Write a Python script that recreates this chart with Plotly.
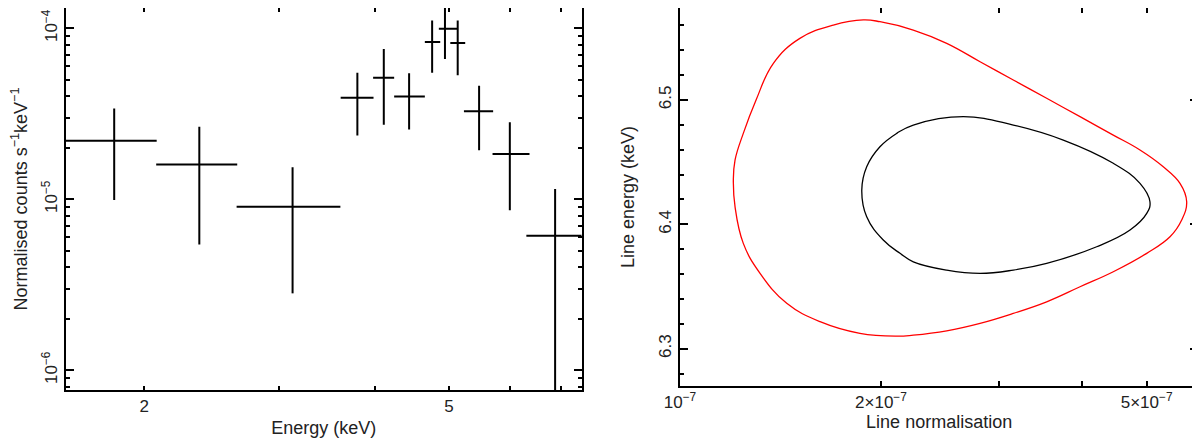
import plotly.graph_objects as go

# ---------------- Left panel: spectrum data ----------------
energy = [1.827, 2.36, 3.124, 3.796, 4.11, 4.435, 4.753, 4.94, 5.133, 5.474, 6.004, 6.88]
energy_lo = [1.579, 2.073, 2.64, 3.61, 3.98, 4.24, 4.65, 4.85, 5.02, 5.23, 5.70, 6.31]
energy_hi = [2.076, 2.645, 3.607, 3.985, 4.24, 4.65, 4.87, 5.125, 5.25, 5.71, 6.37, 7.454]
counts = [2.20e-5, 1.60e-5, 9.05e-6, 3.93e-5, 5.14e-5, 4.00e-5, 8.31e-5, 9.95e-5, 8.20e-5, 3.28e-5, 1.84e-5, 6.12e-6]
counts_hi = [3.40e-5, 2.66e-5, 1.54e-5, 5.50e-5, 7.56e-5, 5.46e-5, 1.11e-4, 1.47e-4, 1.11e-4, 4.61e-5, 2.82e-5, 1.15e-5]
counts_lo = [9.9e-6, 5.45e-6, 2.82e-6, 2.36e-5, 2.73e-5, 2.56e-5, 5.50e-5, 6.61e-5, 5.31e-5, 1.94e-5, 8.63e-6, 7.67e-7]

left_x_ticks = [2, 5]
left_x_ticktext = ["2", "5"]
left_x_minor = [3, 4, 6, 7]
left_y_ticks = [1e-6, 1e-5, 1e-4]
left_y_ticktext = ["10<sup>−6</sup>", "10<sup>−5</sup>", "10<sup>−4</sup>"]
left_y_minor = [8e-7, 9e-7] + [k * 1e-6 for k in range(2, 10)] + [k * 1e-5 for k in range(2, 10)]

# ---------------- Right panel: confidence contours (norm in 1e-7 units) ----------------
red_norm = [1.882, 1.697, 1.512, 1.380, 1.300, 1.244, 1.209, 1.202, 1.209, 1.244, 1.318, 1.445,
            1.621, 1.860, 2.112, 2.236, 2.509, 2.815, 3.157, 3.542, 3.974, 4.457, 5.002, 5.420,
            5.643, 5.741, 5.61, 5.296, 4.887, 4.457, 3.974, 3.542, 3.157, 2.815, 2.509, 2.236,
            1.993, 1.882]
red_energy = [6.5644, 6.5603, 6.5496, 6.5295, 6.5, 6.4732, 6.4517, 6.4356, 6.4142, 6.3847, 6.3606,
              6.3365, 6.3217, 6.3123, 6.3101, 6.3109, 6.3144, 6.3204, 6.3284, 6.3377, 6.3498,
              6.3619, 6.3767, 6.3900, 6.4035, 6.4182, 6.4330, 6.4463, 6.4598, 6.4718, 6.4866,
              6.5014, 6.5161, 6.5308, 6.5456, 6.5563, 6.5630, 6.5644]
black_norm = [2.657, 2.236, 2.112, 1.993, 1.904, 1.872, 1.904, 2.016, 2.136, 2.236, 2.509, 2.815,
              3.157, 3.542, 4.209, 4.722, 5.002, 5.058, 4.887, 4.457, 3.751, 3.157, 2.657]
black_energy = [6.4866, 6.4799, 6.4732, 6.4624, 6.4463, 6.4276, 6.4061, 6.3874, 6.3767, 6.3699,
                6.3632, 6.3606, 6.3632, 6.3686, 6.3820, 6.3954, 6.4088, 6.4182, 6.4330, 6.4491,
                6.4678, 6.4799, 6.4866]

right_x_ticks = [1e-7, 2e-7, 5e-7]
right_x_ticktext = ["10<sup>−7</sup>", "2×10<sup>−7</sup>", "5×10<sup>−7</sup>"]
right_x_minor = [3e-7, 4e-7]
right_y_ticks = [6.3, 6.4, 6.5]
right_y_ticktext = ["6.3", "6.4", "6.5"]
right_y_minor = [6.28, 6.32, 6.34, 6.36, 6.38, 6.42, 6.44, 6.46, 6.48, 6.52, 6.54, 6.56]

FONT = "Liberation Sans, Arial, sans-serif"
TXT = "#222"

fig = go.Figure()

fig.add_trace(go.Scatter(
    x=energy, y=counts, mode="markers",
    marker=dict(size=0.1, color="black", opacity=0),
    cliponaxis=False,
    error_x=dict(type="data", symmetric=False,
                 array=[h - e for h, e in zip(energy_hi, energy)],
                 arrayminus=[e - l for e, l in zip(energy, energy_lo)],
                 thickness=2, width=0, color="black"),
    error_y=dict(type="data", symmetric=False,
                 array=[h - c for h, c in zip(counts_hi, counts)],
                 arrayminus=[c - l for c, l in zip(counts, counts_lo)],
                 thickness=2, width=0, color="black"),
    xaxis="x", yaxis="y", showlegend=False, hoverinfo="skip",
))

fig.add_trace(go.Scatter(
    x=[v * 1e-7 for v in red_norm], y=red_energy, mode="lines",
    line=dict(color="#ff0000", width=1.3, shape="spline", smoothing=1.2),
    xaxis="x2", yaxis="y2", showlegend=False,
))
fig.add_trace(go.Scatter(
    x=[v * 1e-7 for v in black_norm], y=black_energy, mode="lines",
    line=dict(color="black", width=1.3, shape="spline", smoothing=1.2),
    xaxis="x2", yaxis="y2", showlegend=False,
))

axis_common = dict(showline=True, linecolor="black", linewidth=2, mirror="ticks",
                   ticks="inside", tickcolor="black", tickwidth=1.5, showgrid=False,
                   zeroline=False, automargin=False,
                   tickfont=dict(family=FONT, size=17, color=TXT))
minor_common = dict(ticks="inside", tickcolor="black", tickwidth=1.5, showgrid=False)
title_font = dict(family=FONT, size=18, color=TXT)

# The page body adds an 8px offset; domains are placed to compensate.
fig.update_layout(
    width=1200, height=440,
    margin=dict(l=0, r=0, t=0, b=0, autoexpand=False),
    paper_bgcolor="white", plot_bgcolor="white",
    font=dict(family=FONT, color=TXT),
    xaxis=dict(axis_common, domain=[0.04808, 0.47808], type="log",
               range=[0.1984, 0.8723], tickvals=left_x_ticks, ticktext=left_x_ticktext,
               ticklen=4,
               minor=dict(minor_common, tickvals=left_x_minor, ticklen=4),
               title=dict(text="Energy (keV)", font=title_font, standoff=6),
               anchor="y"),
    yaxis=dict(axis_common, domain=[0.13182, 1.0], type="log",
               range=[-6.115, -3.881], tickvals=left_y_ticks, ticktext=left_y_ticktext,
               ticklen=8, tickangle=-90,
               minor=dict(minor_common, tickvals=left_y_minor, ticklen=4),
               title=dict(text="Normalised counts s<sup>−1</sup>keV<sup>−1</sup>",
                          font=title_font, standoff=10),
               anchor="x"),
    xaxis2=dict(axis_common, domain=[0.56, 0.99192], type="log",
                range=[-7, -6.2236], tickvals=right_x_ticks, ticktext=right_x_ticktext,
                ticklen=5,
                minor=dict(minor_common, tickvals=right_x_minor, ticklen=5),
                title=dict(text="Line normalisation", font=title_font, standoff=2),
                anchor="y2"),
    yaxis2=dict(axis_common, domain=[0.14091, 1.0],
                range=[6.27, 6.574], tickvals=right_y_ticks, ticktext=right_y_ticktext,
                ticklen=8, tickangle=-90,
                minor=dict(minor_common, tickvals=right_y_minor, ticklen=4),
                title=dict(text="Line energy (keV)", font=title_font, standoff=17),
                anchor="x2"),
)

fig.write_html("out.html")
